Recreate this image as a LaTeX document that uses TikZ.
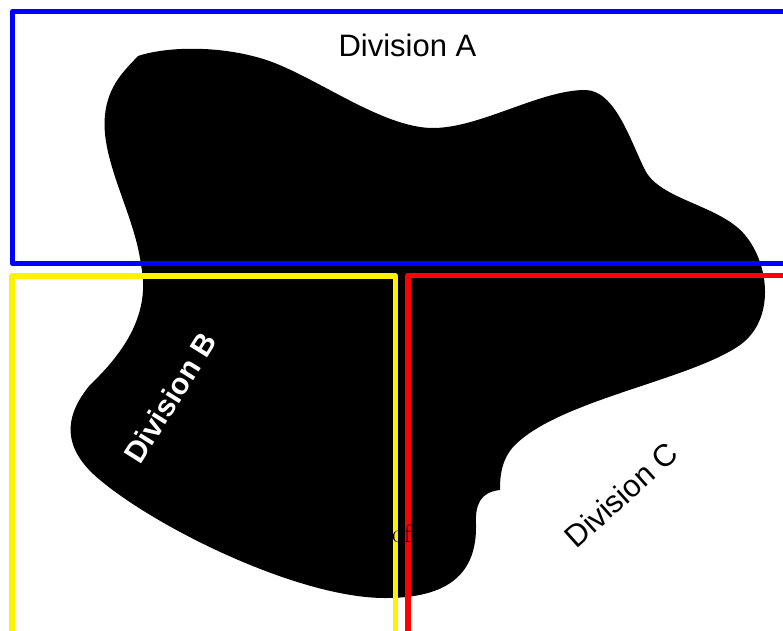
\documentclass[tikz,border=0pt]{standalone}
\usepackage{fontspec}
\newfontfamily\arialfont{Liberation Sans}
\pgfdeclarelayer{bloblayer}
\pgfdeclarelayer{boxlayer}
\pgfsetlayers{bloblayer,boxlayer,main}
\tikzstyle{division}=[line width=5.5pt, line join=round]
\tikzstyle{divtext}=[inner sep=0pt, font=\arialfont\fontsize{31}{36}\selectfont]
\begin{document}
\begin{tikzpicture}[x=1pt,y=-1pt]
				\useasboundingbox (0,0) rectangle (783,630);
				\clip (0,0) rectangle (783,630);
				\begin{pgfonlayer}{bloblayer}
					\fill [black] (138,56) .. controls (165,47) and (215,45) .. (260,58)
						.. controls (310,72) and (380,128) .. (433,128)
						.. controls (480,128) and (540,90) .. (585,90)
						.. controls (615,90) and (630,140) .. (645,170)
						.. controls (660,200) and (720,205) .. (745,235)
						.. controls (770,265) and (775,320) .. (740,345)
						.. controls (690,380) and (560,400) .. (515,445)
						.. controls (500,460) and (500,480) .. (500,490)
						.. controls (480,492) and (475,505) .. (476,525)
						.. controls (477,580) and (440,598) .. (385,598)
						.. controls (300,598) and (160,530) .. (100,480)
						.. controls (60,447) and (65,415) .. (90,385)
						.. controls (118,358) and (152,318) .. (141,265)
						.. controls (135,215) and (100,160) .. (105,115)
						.. controls (108,85) and (125,70) .. (138,56) -- cycle;
				\end{pgfonlayer}
				\begin{pgfonlayer}{boxlayer}
					\draw [style=division, blue] (12.5,11.5) rectangle (800,263.5);
					\draw [style=division, yellow] (12,276) rectangle (395.5,650);
					\draw [style=division, red] (408,275.5) rectangle (800,650);
				\end{pgfonlayer}
				\node [style=divtext, anchor=base] (diva) at (407.5,56) {Division A};
				\node [style=divtext, white, rotate=58, font=\arialfont\bfseries\fontsize{30}{36}\selectfont] (divb) at (170,398) {Division B};
				\node [style=divtext, rotate=42] (divc) at (621,495) {Division C};
				\node [inner sep=0pt, anchor=base west, font=\fontsize{26}{30}\selectfont] (of) at (392,542) {of};
			\end{tikzpicture}
\end{document}
